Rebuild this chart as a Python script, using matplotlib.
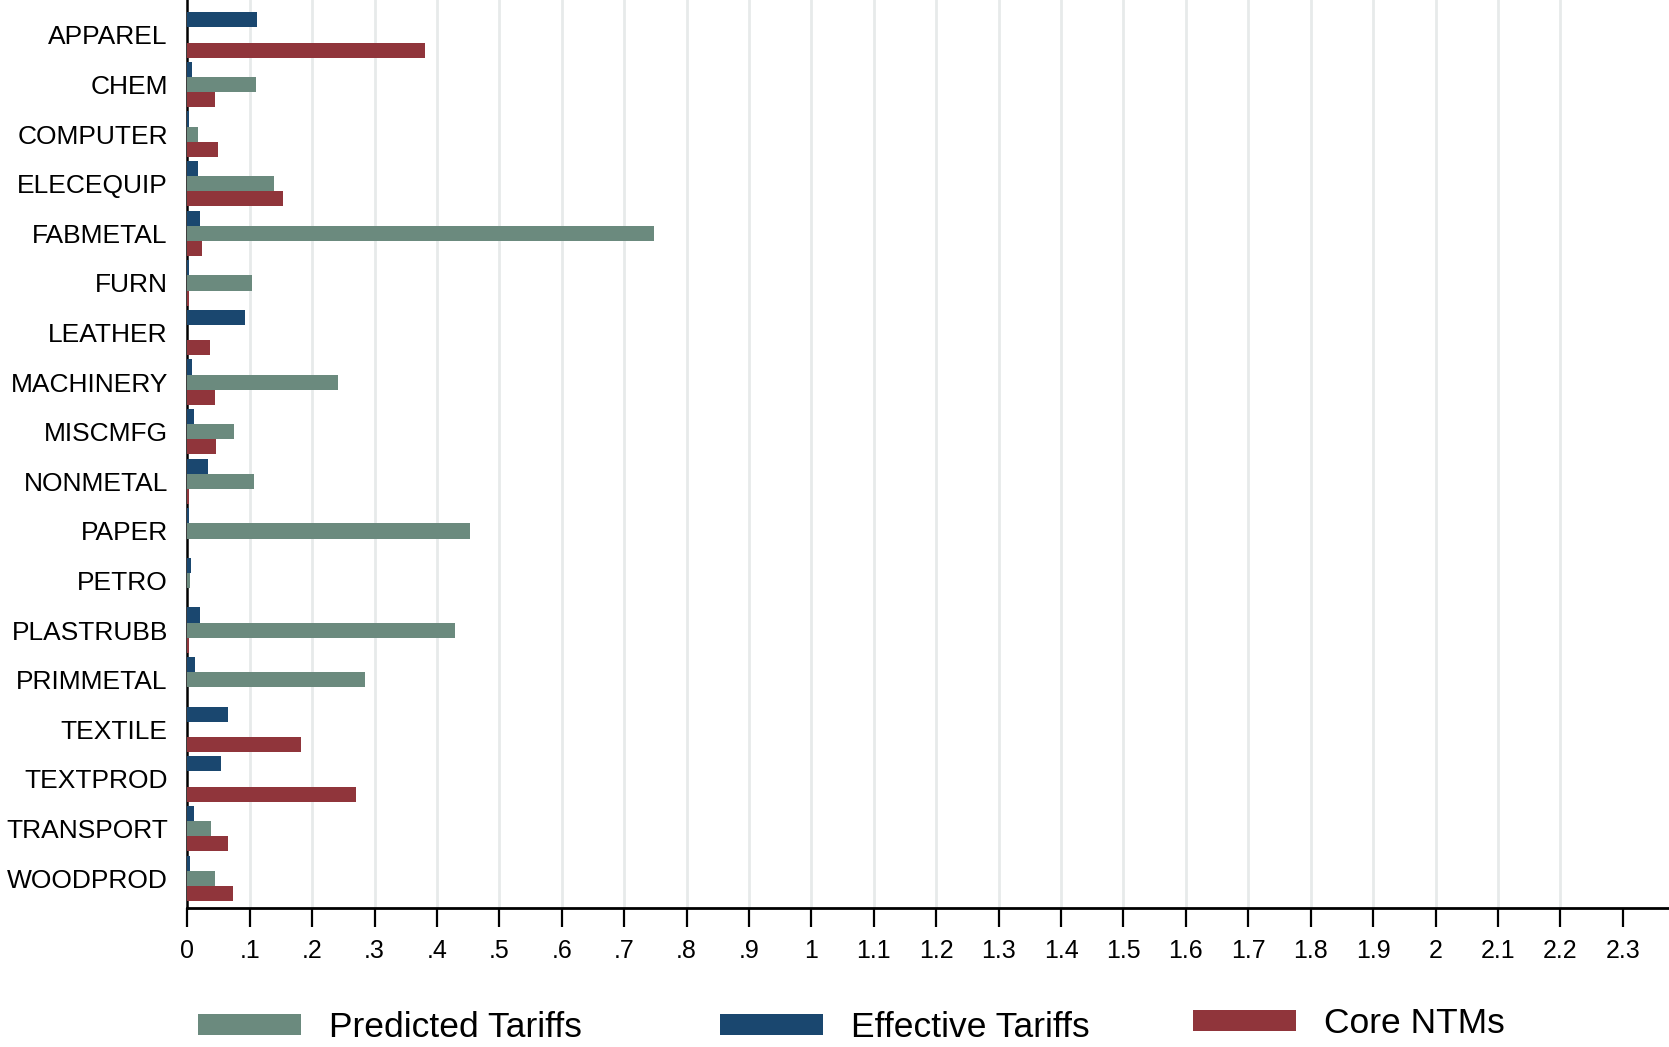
import matplotlib
matplotlib.use("Agg")
import matplotlib.pyplot as plt
import numpy as np
from matplotlib.patches import Patch

plt.rcParams['font.family'] = ['Liberation Sans', 'DejaVu Sans']

# data
sectors = ["APPAREL", "CHEM", "COMPUTER", "ELECEQUIP", "FABMETAL", "FURN",
           "LEATHER", "MACHINERY", "MISCMFG", "NONMETAL", "PAPER", "PETRO",
           "PLASTRUBB", "PRIMMETAL", "TEXTILE", "TEXTPROD", "TRANSPORT", "WOODPROD"]
effective = [0.112, 0.008, 0.003, 0.017, 0.020, 0.002, 0.093, 0.007, 0.010,
             0.033, 0.002, 0.006, 0.021, 0.012, 0.065, 0.054, 0.010, 0.005]
predicted = [0.0, 0.110, 0.018, 0.139, 0.748, 0.104, 0.0, 0.242, 0.075,
             0.107, 0.453, 0.005, 0.429, 0.285, 0.0, 0.0, 0.038, 0.044]
core_ntm = [0.381, 0.045, 0.049, 0.153, 0.024, 0.002, 0.036, 0.045, 0.046,
            0.002, 0.0, 0.0, 0.002, 0.0, 0.182, 0.271, 0.065, 0.073]
xticks = np.round(np.arange(0, 2.31, 0.1), 1)

c_green = '#6b8a7e'
c_blue = '#1a476f'
c_red = '#90353b'

fig = plt.figure(figsize=(16.69, 10.47), dpi=100)
ax = fig.add_axes([0.1122, 0.1328, 0.8878, 0.8672])

y = np.arange(len(sectors))
h = 0.305
ax.barh(y - h, effective, height=h, color=c_blue, zorder=3)
ax.barh(y, predicted, height=h, color=c_green, zorder=3)
ax.barh(y + h, core_ntm, height=h, color=c_red, zorder=3)

# vertical grid lines
for v in xticks[1:-1]:
    ax.axvline(v, color='#e7eaea', lw=2.0, zorder=1)

ax.set_xlim(0, 2.374)
ax.set_ylim(17.6, -0.705)
ax.set_yticks(y)
ax.set_yticklabels(sectors, fontsize=19)
ax.tick_params(axis='y', length=0, pad=14)

ax.set_xticks(xticks)
ax.set_xticklabels(["0" if v == 0 else f"{v:g}".lstrip("0") for v in xticks], fontsize=18)
ax.tick_params(axis='x', length=14, width=1.6, pad=8, color='black')

for s in ['top', 'right']:
    ax.spines[s].set_visible(False)
ax.spines['left'].set_linewidth(1.8)
ax.spines['bottom'].set_linewidth(2.0)

# legend entries placed one by one, like the original
labels = ["Predicted Tariffs", "Effective Tariffs", "Core NTMs"]
colors = [c_green, c_blue, c_red]
xpos = [0.1186, 0.4314, 0.7148]
ypos = [0.019, 0.019, 0.0225]
for lab, col, xp, yp in zip(labels, colors, xpos, ypos):
    fig.legend([Patch(facecolor=col)], [lab], loc='center left', bbox_to_anchor=(xp, yp),
               frameon=False, fontsize=25.5, handlelength=2.9, handleheight=0.54,
               handletextpad=0.8, borderpad=0, borderaxespad=0)

fig.savefig("out.png", dpi=100)
